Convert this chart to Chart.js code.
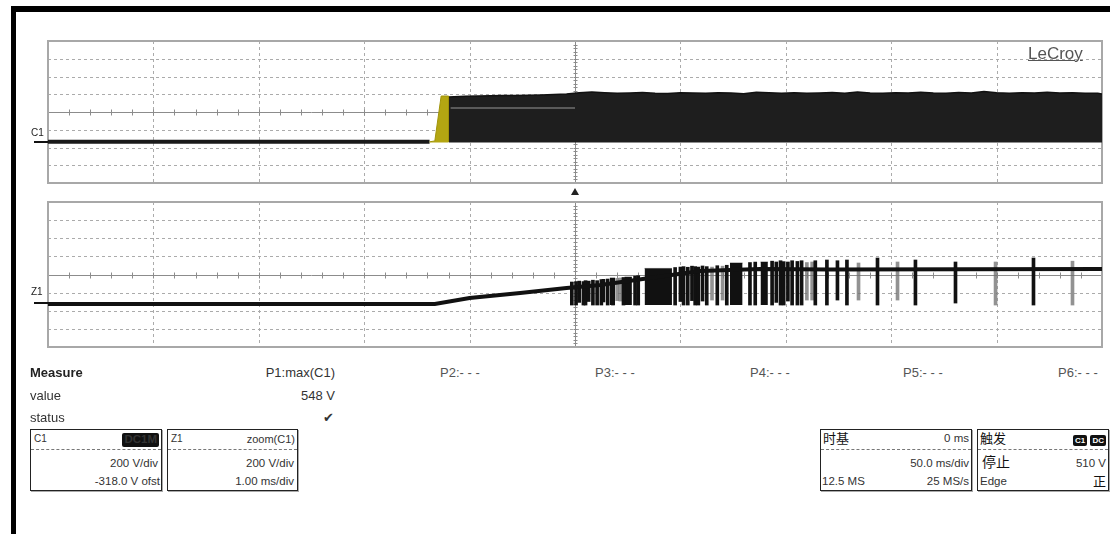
<!DOCTYPE html>
<html>
<head>
<meta charset="utf-8">
<script src="https://cdn.jsdelivr.net/npm/chart.js@4/dist/chart.umd.min.js"></script>
<style>
  body { margin: 0; background: #fff; width: 1110px; height: 534px; overflow: hidden; position: relative;
         font-family: "Liberation Sans", Arial, "Noto Sans CJK SC", sans-serif; color: #333; }
  .t { position: absolute; white-space: nowrap; line-height: 1; }
  .r { transform: translateX(-100%); }
  .box { position: absolute; top: 429px; height: 62px; box-sizing: border-box; border: 1px solid #222;
         box-shadow: 1px 1px 0 #aaa; background: #fff; }
  .box .sep { position: absolute; left: 0; right: 0; top: 19px; border-top: 1px dashed #777; }
  .box .t { font-size: 11.5px; color: #333; }
  .badge { background: #111; color: #fff; font-size: 8px; font-weight: bold; padding: 1px 2px; border-radius: 2px; }
  canvas { position: absolute; }
</style>
</head>
<body>
<!-- screen frame -->
<div style="position:absolute;left:11px;top:6px;width:1099px;height:6px;background:#000"></div>
<div style="position:absolute;left:11px;top:6px;width:5px;height:528px;background:#000"></div>

<canvas id="c1Chart" width="1062" height="150" style="left:44px;top:37px"></canvas>
<canvas id="z1Chart" width="1062" height="153" style="left:44px;top:198px"></canvas>

<!-- trace labels -->
<div class="t" style="left:31px;top:128px;font-size:10px;color:#222">C1</div>
<div style="position:absolute;left:34px;top:141px;width:14px;height:2px;background:#111"></div>
<div class="t" style="left:31px;top:287px;font-size:10px;color:#222">Z1</div>
<div style="position:absolute;left:34px;top:302px;width:14px;height:2px;background:#111"></div>
<div class="t" style="left:1028px;top:45px;font-size:17px;color:#555;text-decoration:underline">LeCroy</div>
<div style="position:absolute;left:571px;top:188px;width:0;height:0;border-left:4px solid transparent;border-right:4px solid transparent;border-bottom:7px solid #222"></div>

<!-- measure table -->
<div class="t" style="left:30px;top:366px;font-size:13px;font-weight:bold;color:#222">Measure</div>
<div class="t" style="left:30px;top:389px;font-size:13px">value</div>
<div class="t" style="left:30px;top:411px;font-size:13px">status</div>
<div class="t r" style="left:335px;top:366px;font-size:13px">P1:max(C1)</div>
<div class="t r" style="left:335px;top:389px;font-size:13px">548 V</div>
<div class="t r" style="left:334px;top:411px;font-size:13px;font-family:'DejaVu Sans'">✔</div>
<div class="t" style="left:440px;top:366px;font-size:13px;color:#555">P2:- - -</div>
<div class="t" style="left:595px;top:366px;font-size:13px;color:#555">P3:- - -</div>
<div class="t" style="left:750px;top:366px;font-size:13px;color:#555">P4:- - -</div>
<div class="t" style="left:903px;top:366px;font-size:13px;color:#555">P5:- - -</div>
<div class="t" style="left:1058px;top:366px;font-size:13px;color:#555">P6:- - -</div>

<!-- channel boxes -->
<div class="box" style="left:30px;width:132px">
  <div class="t" style="left:3px;top:4px;font-size:10px">C1</div>
  <div class="t badge" style="right:2px;top:3px">DC1M</div>
  <div class="sep"></div>
  <div class="t" style="right:3px;top:28px">200 V/div</div>
  <div class="t" style="right:1px;top:46px">-318.0 V ofst</div>
</div>
<div class="box" style="left:167px;width:131px">
  <div class="t" style="left:3px;top:4px;font-size:10px">Z1</div>
  <div class="t" style="right:2px;top:4px;font-size:11px">zoom(C1)</div>
  <div class="sep"></div>
  <div class="t" style="right:3px;top:28px">200 V/div</div>
  <div class="t" style="right:3px;top:46px">1.00 ms/div</div>
</div>
<div class="box" style="left:820px;width:152px">
  <div class="t" style="left:2px;top:2px;font-size:13px;color:#111">时基</div>
  <div class="t" style="right:2px;top:3px">0 ms</div>
  <div class="sep"></div>
  <div class="t" style="right:2px;top:28px">50.0 ms/div</div>
  <div class="t" style="left:1px;top:46px">12.5 MS</div>
  <div class="t" style="right:2px;top:46px">25 MS/s</div>
</div>
<div class="box" style="left:977px;width:132px">
  <div class="t" style="left:2px;top:2px;font-size:13px;color:#111">触发</div>
  <div class="t" style="right:2px;top:4px"><span class="badge">C1</span> <span class="badge">DC</span></div>
  <div class="sep"></div>
  <div class="t" style="left:4px;top:25px;font-size:14px;color:#111">停止</div>
  <div class="t" style="right:2px;top:28px">510 V</div>
  <div class="t" style="left:2px;top:46px">Edge</div>
  <div class="t" style="right:2px;top:45px;font-size:13px;color:#111">正</div>
</div>

<script>
// ===== C1: 50 ms/div, 200 V/div, -318 V offset =====
const c1BaseTimes = [-250, -69];
const c1BaseVolts = [-18, -18];

const c1EdgeTimes = [-69, -66.5, -63.5, -60, -60];
const c1EdgeVolts = [-18, -8, 498, 498, -18];

// upper envelope of the switching band (ms, V)
const c1EnvTimes = [
  -60, -52, -46, -40, -34, -28, -22, -16, -10, -4,
  2, 8, 14, 20, 26, 32, 38, 44, 50, 56,
  62, 68, 74, 80, 86, 92, 98, 104, 110, 116,
  122, 128, 134, 140, 146, 152, 158, 164, 170, 176,
  182, 188, 194, 200, 206, 212, 218, 224, 230, 236,
  242, 248, 250
];
const c1EnvTop = [
  487, 495, 498, 500, 503, 505, 508, 510, 515, 520,
  534, 542, 534, 528, 532, 538, 530, 526, 534, 532,
  528, 536, 531, 525, 540, 534, 530, 535, 528, 533,
  538, 530, 543, 533, 528, 535, 531, 540, 532, 529,
  537, 531, 548, 534, 530, 536, 533, 541, 531, 535,
  529, 528, 520
];
const c1BandFloor = -25;

const c1GhostTimes = [-59, 0];
const c1GhostVolts = [363, 363];

// ===== Z1: zoom(C1), 1.00 ms/div =====
const z1TraceTimes = [0, 3.67, 4.00, 4.48, 4.92, 5.24, 5.71, 6.19, 6.76, 7.42, 10];
const z1TraceVolts = [-8, -8, 58, 114, 169, 202, 279, 356, 379, 372, 379];

const z1BlockStart = [5.33, 5.47, 5.66, 6.47, 6.76];
const z1BlockEnd   = [5.38, 5.54, 5.92, 6.59, 6.83];
const z1BlockTop   = [280, 290, 385, 445, 456];
const z1BlockFloor = -19;

const z1SpikeTimes = [
  4.97, 5.01, 5.04, 5.08, 5.10, 5.13, 5.17, 5.21, 5.25, 5.27,
  5.31, 5.36, 5.40, 5.43, 5.46, 5.57, 5.60, 5.95, 6.00, 6.03,
  6.07, 6.11, 6.14, 6.17, 6.21, 6.25, 6.30, 6.35, 6.40, 6.44,
  6.66, 6.71, 6.87, 6.91, 6.95, 6.98, 7.02, 7.06, 7.11, 7.15,
  7.20, 7.25, 7.28, 7.39, 7.49, 7.58, 7.69, 7.87, 8.06, 8.23,
  8.61, 8.99, 9.35, 9.72
];
const z1SpikeLow = [
  -19, -19, 10, -19, -19, 20, -19, -19, -19, 15,
  -19, -19, 30, 25, -19, -19, -19, -19, 20, -19,
  -19, 30, -19, -19, 25, -19, 36, -19, 36, -19,
  -19, -19, -19, 10, -19, -19, 25, -19, -19, -19,
  36, 36, -19, -19, 36, -19, 36, -19, 36, -19,
  3, -19, -19, -19
];
const z1SpikeHigh = [
  235, 240, 245, 240, 250, 245, 255, 250, 262, 265,
  268, 270, 275, 280, 285, 300, 305, 395, 400, 405,
  398, 410, 405, 400, 412, 405, 400, 415, 410, 420,
  450, 455, 465, 456, 470, 460, 456, 470, 462, 470,
  450, 456, 470, 478, 470, 478, 445, 500, 456, 478,
  456, 456, 500, 465
];

// ----- styling -----
const faintSpikes = new Set([12, 13, 26, 28, 40, 41, 46, 48, 51, 53]);
const VOLT_MIN = -482, VOLT_MAX = 1118;

const pts = (xs, ys) => xs.map((x, i) => ({ x, y: ys[i] }));

// scope graticule: 10 x 8 divisions, dashed, with a solid centre cross
const graticule = {
  id: 'graticule',
  beforeDatasetsDraw(chart) {
    const { ctx, chartArea: a, scales: { x, y } } = chart;
    const xv = i => Math.round(x.getPixelForValue(x.min + i * (x.max - x.min) / 10)) + 0.5;
    const yv = j => Math.round(y.getPixelForValue(y.min + j * (y.max - y.min) / 8)) + 0.5;
    ctx.save();
    ctx.lineWidth = 1;
    ctx.strokeStyle = '#ababab';
    ctx.setLineDash([3, 3]);
    for (let i = 1; i < 10; i++) {
      if (i === 5) continue;
      ctx.beginPath(); ctx.moveTo(xv(i), a.top); ctx.lineTo(xv(i), a.bottom); ctx.stroke();
    }
    for (let j = 1; j < 8; j++) {
      if (j === 4) continue;
      ctx.beginPath(); ctx.moveTo(a.left, yv(j)); ctx.lineTo(a.right, yv(j)); ctx.stroke();
    }
    ctx.setLineDash([]);
    ctx.strokeStyle = '#8c8c8c';
    const cx = xv(5), cy = yv(4);
    ctx.beginPath();
    ctx.moveTo(cx, a.top); ctx.lineTo(cx, a.bottom);
    ctx.moveTo(a.left, cy); ctx.lineTo(a.right, cy);
    for (let k = 1; k < 50; k++) {
      const px = Math.round(x.getPixelForValue(x.min + k * (x.max - x.min) / 50)) + 0.5;
      ctx.moveTo(px, cy - 3); ctx.lineTo(px, cy + 3);
    }
    for (let k = 1; k < 40; k++) {
      const py = Math.round(y.getPixelForValue(y.min + k * (y.max - y.min) / 40)) + 0.5;
      ctx.moveTo(cx - 2, py); ctx.lineTo(cx + 2, py);
    }
    ctx.stroke();
    ctx.strokeStyle = '#a8a8a8';
    ctx.lineWidth = 2;
    ctx.strokeRect(a.left, a.top, a.width, a.height);
    ctx.restore();
  }
};

const baseOptions = (xMin, xMax) => ({
  responsive: false,
  animation: false,
  devicePixelRatio: 1,
  events: [],
  layout: { padding: 4 },
  plugins: { legend: { display: false }, tooltip: { enabled: false } },
  elements: { point: { radius: 0 }, line: { tension: 0 } },
  scales: {
    x: { type: 'linear', display: false, offset: false, min: xMin, max: xMax },
    y: { type: 'linear', display: false, min: VOLT_MIN, max: VOLT_MAX }
  }
});

new Chart(document.getElementById('c1Chart'), {
  type: 'line',
  data: {
    datasets: [
      {
        data: pts(c1EdgeTimes, c1EdgeVolts), order: 0,
        borderColor: 'rgb(160,148,10)', borderWidth: 1,
        backgroundColor: 'rgb(180,166,18)', fill: { value: c1BandFloor }
      },
      {
        data: pts(c1GhostTimes, c1GhostVolts), order: 1,
        borderColor: 'rgba(130,130,130,0.8)', borderWidth: 1.5, fill: false
      },
      {
        data: pts(c1EnvTimes, c1EnvTop), order: 2,
        borderColor: '#111', borderWidth: 1.5,
        backgroundColor: '#1e1e1e', fill: { value: c1BandFloor }
      },
      {
        data: pts(c1BaseTimes, c1BaseVolts), order: 3,
        borderColor: '#1a1a1a', borderWidth: 4, fill: false
      }
    ]
  },
  options: baseOptions(-250, 250),
  plugins: [graticule]
});

const blockPoints = [];
z1BlockStart.forEach((s, i) => {
  blockPoints.push({ x: s, y: z1BlockTop[i] }, { x: z1BlockEnd[i], y: z1BlockTop[i] }, { x: z1BlockEnd[i], y: null });
});

new Chart(document.getElementById('z1Chart'), {
  type: 'line',
  data: {
    datasets: [
      {
        data: pts(z1TraceTimes, z1TraceVolts), order: 0,
        borderColor: '#111', borderWidth: 4, fill: false
      },
      {
        type: 'bar', order: 1, grouped: false, barThickness: 3, borderWidth: 0,
        data: z1SpikeTimes.map((t, i) => ({ x: t, y: [z1SpikeLow[i], z1SpikeHigh[i]] })),
        backgroundColor: z1SpikeTimes.map((t, i) => faintSpikes.has(i) ? 'rgba(110,110,110,0.75)' : '#111')
      },
      {
        data: blockPoints, order: 2, spanGaps: false,
        borderColor: '#111', borderWidth: 0.5,
        backgroundColor: '#111', fill: { value: z1BlockFloor }
      }
    ]
  },
  options: baseOptions(0, 10),
  plugins: [graticule]
});
</script>
</body>
</html>
